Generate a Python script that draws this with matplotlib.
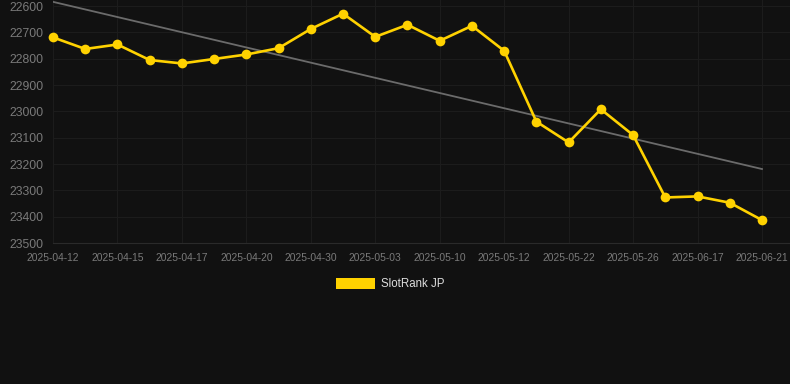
import matplotlib
matplotlib.use("Agg")
import matplotlib.pyplot as plt
import numpy as np
from matplotlib.patches import Patch

# --- data ---
dates = ["2025-04-12", "2025-04-13", "2025-04-15", "2025-04-16", "2025-04-17",
         "2025-04-19", "2025-04-20", "2025-04-27", "2025-04-30", "2025-05-01",
         "2025-05-03", "2025-05-06", "2025-05-10", "2025-05-11", "2025-05-12",
         "2025-05-20", "2025-05-22", "2025-05-25", "2025-05-26", "2025-06-05",
         "2025-06-17", "2025-06-19", "2025-06-21"]
rank = [22719, 22763, 22746, 22805, 22818, 22801, 22784, 22760, 22687, 22629,
        22717, 22671, 22732, 22675, 22770, 23039, 23118, 22992, 23090, 23327,
        23323, 23347, 23413]
trend_ends = [22584, 23219]
series_name = "SlotRank JP"
y_ticks = [22600, 22700, 22800, 22900, 23000, 23100, 23200, 23300, 23400, 23500]

bg = "#111111"
gold = "#FFD200"

plt.rcParams['font.family'] = ['Liberation Sans', 'DejaVu Sans']

fig = plt.figure(figsize=(7.9, 3.84), dpi=100, facecolor=bg)
ax = fig.add_axes([53 / 790, 1 - 243 / 384, 737 / 790, 243 / 384])
ax.set_facecolor(bg)

x = np.arange(len(dates))

# trend line
ax.plot([x[0], x[-1]], trend_ends, color="#6b6b6b", linewidth=1.3, zorder=2)

# main series
ax.plot(x, rank, color=gold, linewidth=1.9, marker="o", markersize=7,
        markeredgewidth=0, zorder=3, clip_on=False)

ax.set_xlim(0, len(dates) - 1 + 28 / 32.2)
ax.set_ylim(23500, 22577)

ax.set_xticks(x[::2])
ax.set_xticklabels(dates[::2])
ax.set_yticks(y_ticks)
ax.set_yticklabels([str(v) for v in y_ticks])

ax.tick_params(axis="x", length=0, pad=7, labelsize=7.4, colors="#7a7a7a")
ax.tick_params(axis="y", length=0, pad=7, labelsize=8.8, colors="#7a7a7a")

ax.grid(True, color="#1c1c1c", linewidth=0.8, zorder=0)
for s in ["top", "right", "left"]:
    ax.spines[s].set_visible(False)
ax.spines["bottom"].set_color("#2a2a2a")
ax.spines["bottom"].set_linewidth(0.8)

leg = fig.legend(handles=[Patch(facecolor=gold, edgecolor="none", label=series_name)],
                 loc="center", bbox_to_anchor=(390 / 790, 1 - 284 / 384),
                 frameon=False, fontsize=8.3, handlelength=3.4, handleheight=1.15,
                 handletextpad=0.5)
for t in leg.get_texts():
    t.set_color("#dddddd")

fig.savefig("out.png", dpi=100, facecolor=bg)
